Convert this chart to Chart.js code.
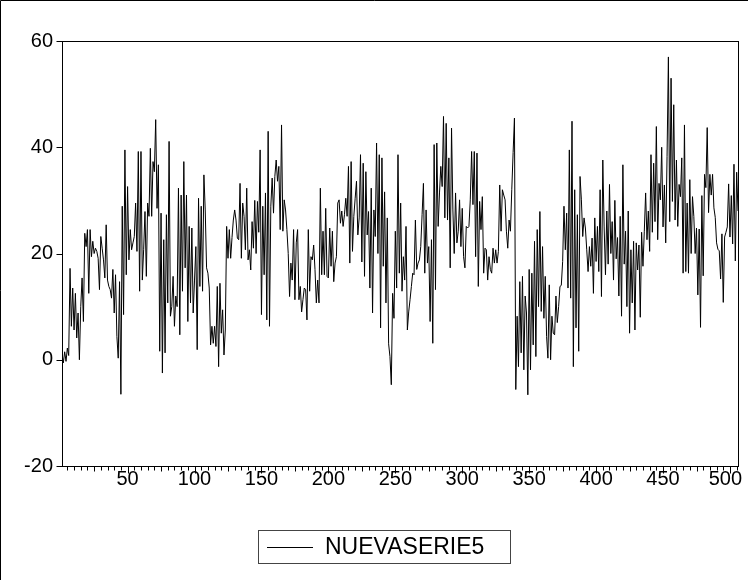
<!DOCTYPE html>
<html><head><meta charset="utf-8">
<script src="https://cdn.jsdelivr.net/npm/chart.js@4.4.1/dist/chart.umd.min.js"></script>
<style>html,body{margin:0;padding:0;background:#fff}#wrap{width:748px;height:580px;position:relative}</style>
</head><body><div id="wrap"><canvas id="c" width="748" height="580"></canvas></div>
<script>
const seriesName = "NUEVASERIE5";
const yTickValues = [-20, 0, 20, 40, 60];
const xTickLabels = [50, 100, 150, 200, 250, 300, 350, 400, 450, 500];

const values001_101 = [
1.2, -0.6, 1.5, -0.3, 2.2, 0.8, 17.2, 6.3, 13.5, 5.6,
12.5, 4.1, 8.8, 0, 10, 15.4, 7.2, 23.8, 21.3, 24.5,
12.5, 24.5, 19.4, 22.3, 20, 21, 20.4, 19.1, 13.2, 23.2,
21, 18.8, 15.4, 25.4, 15, 13.8, 13.2, 11.6, 17, 8.8, 16,
4.4, 0.3, 14.7, -6.5, 28.9, 8.5, 39.5, 16, 32.6, 18.8,
24.5, 20.7, 22, 23.2, 29.5, 20.4, 39.2, 12.9, 39.2, 15,
20.7, 27.9, 15.7, 29.5, 27, 39.8, 27, 37.3, 35.4, 45.2,
28.5, 36.7, 1.6, 27.6, -2.5, 22.6, 1.3, 27.3, 10.7, 41.1,
8.2, 10, 15.7, 6.3, 12, 10, 32.3, 4.7, 31, 12.9,
37.3, 17.3, 31, 7.2, 25.1, 10.7, 24.8, 8.8, 15, 21.3];
const values102_202 = [
1.9, 30.4, 13.8, 28.9, 12.9, 34.8, 28.2, 17.3, 16.3, 13.5,
2.8, 6.3, 3.1, 6.3, 2.5, 13.8, -1.3, 14.4, 5, 9.4,
0.9, 5.6, 25.1, 19.1, 24.5, 19.1, 23, 26.3, 28.2, 26.3, 22.9,
22.6, 33.2, 19.1, 29.5, 27, 20.7, 32.3, 18.8, 20.7, 16.9,
26, 21, 30, 20, 29.8, 24, 39.5, 8.5, 28.9, 16,
31.4, 7.5, 43, 6.3, 28.9, 34.2, 27.6, 34.5, 37.6, 33.6,
36.4, 24.5, 44.2, 24.2, 30.1, 28.2, 24.5, 20, 11.9, 18.2,
15, 24.5, 11.3, 22, 24.5, 11.3, 13.8, 9, 11.3, 13.5,
13.2, 7.5, 24.5, 12.9, 19.4, 18.8, 21.6, 17, 10.7, 15,
10.7, 32.3, 16, 24.2, 16, 28.5, 15.7, 15.4, 24.8, 17.6];
const values203_304 = [
24.2, 14.7, 18.2, 19.4, 29.5, 30.1, 25.7, 28, 25.1, 27.3, 30.4,
27, 36.4, 18.2, 37.3, 20.4, 27, 30.4, 33.6, 23.5, 26.7,
38.6, 18.4, 37, 15.7, 35.4, 23.5, 27.9, 13.5, 32.3, 8.8,
28.2, 23.2, 40.8, 20, 38.6, 6, 38, 17.6, 31.6, 10.7,
26.7, 3, 0.6, -4.7, 12.5, 7.8, 24.2, 13.5, 38.6, 16.3,
29.5, 12.9, 19.4, 15, 25.1, 5.6, 9, 11.3, 13.8, 16.3,
16, 26.3, 17, 18.2, 18.8, 21.3, 27.3, 33.2, 16.3, 28.2,
18.2, 21.3, 7.2, 22.6, 3.1, 40.5, 13.2, 40.8, 25.1, 31.4,
36.4, 32.6, 45.8, 26.7, 44.5, 26.3, 38, 17.3, 43.6, 28.2,
20, 31.4, 22, 24.2, 30.1, 21.3, 28.5, 19.4, 17.3, 25.1, 24.8];
const values305_405 = [
25.1, 30.1, 39.2, 29.2, 39.2, 19.4, 38.9, 13.8, 29.8, 24.5,
30.7, 16.3, 21, 20.7, 15, 19.4, 17, 16.3, 21, 18.2,
20.7, 18.2, 20.4, 32.9, 24.2, 32, 31, 30.1, 24.2, 21,
26.3, 24.2, 32, 39, 45.5, -5.6, 8.2, -1.3, 14.7, 1.3,
15.7, -1.9, 12, 8.8, -6.6, 17, -1.9, 16.3, 2.8, 22.3,
0.6, 24.5, 10, 27.9, 9.1, 21.3, 7.8, 15.7, 4.4, 0.3,
14.1, 0, 8.2, 5, 4.7, 12, 7, 10, 13.8, 14, 18.5,
28.9, 20.7, 27.6, 13.5, 39.5, 11.6, 44.9, -1.3, 32, 6,
27.3, 1.6, 34.5, 30.1, 23.2, 26.7, 24.8, 20.7, 16.6, 21.3,
17.6, 22.9, 12.5, 26.7, 18.5, 25.1, 16.6, 32, 11.9, 37.6];
const values406_506 = [
25, 16, 28, 18, 33, 20, 26, 15, 30, 19,
23, 12, 27, 8.2, 36.7, 18, 24.2, 10, 28, 5,
20.7, 10.7, 22.3, 5.6, 22, 16.9, 21.6, 8, 24, 17.6,
24.2, 31.4, 22.6, 28, 20.4, 38.6, 24, 37, 26, 43.9,
22.6, 33.2, 30.1, 40, 25, 32.9, 22, 38.3, 57, 26,
53, 29.8, 48, 26.3, 37.6, 25.1, 33, 30.7, 38, 16.3, 44.2,
16.6, 29.5, 16.3, 33.9, 20, 30.7, 27, 20, 24.8, 12.2,
24.6, 6.1, 30.9, 15.8, 34.9, 32.4, 43.7, 27.7, 34.9, 31,
34.9, 28.6, 26.8, 22, 20.8, 20.5, 15.2, 23.7, 10.8, 23.1,
24, 25, 33.1, 23.1, 30.9, 21.8, 36.8, 18.6, 35.3, 28];

const values = [].concat(values001_101, values102_202, values203_304, values305_405, values406_506);
const points = values.map((v, i) => ({x: i + 1, y: v}));

const FONT = 'Arial, "Liberation Sans", sans-serif';
const W = 748, H = 580;
const PLOT = {left: 62, top: 41, right: 738, bottom: 466};

const framePlugin = {
  id: 'frame',
  beforeDraw(chart) {
    const c = chart.ctx;
    c.save();
    c.fillStyle = '#fff';
    c.fillRect(0, 0, W, H);
    c.restore();
  },
  afterDraw(chart) {
    const c = chart.ctx, a = chart.chartArea;
    const xs = chart.scales.x, ys = chart.scales.y;
    c.save();
    c.strokeStyle = '#000';
    c.lineWidth = 1;
    c.beginPath();
    c.moveTo(0.5, H); c.lineTo(0.5, 0.5); c.lineTo(W, 0.5);
    c.stroke();
    const L = Math.round(a.left) + 0.5, T = Math.round(a.top) + 0.5;
    const R = Math.round(a.right) + 0.5, B = Math.round(a.bottom) + 0.5;
    c.strokeRect(L, T, R - L, B - T);
    c.beginPath();
    for (let v = 5; v <= xs.max; v += 5) {
      const px = Math.round(xs.getPixelForValue(v)) + 0.5;
      const len = v % 50 === 0 ? 7 : (v % 25 === 0 ? 5 : 4);
      c.moveTo(px, B); c.lineTo(px, B + len);
    }
    for (const v of yTickValues) {
      const py = Math.round(ys.getPixelForValue(v)) + 0.5;
      c.moveTo(L - 6, py); c.lineTo(L, py);
    }
    c.stroke();
    c.fillStyle = '#000';
    c.font = '20px ' + FONT;
    c.textBaseline = 'middle';
    c.textAlign = 'center';
    for (const v of xTickLabels) {
      const s = String(v);
      const w = c.measureText(s).width;
      let px = xs.getPixelForValue(v);
      if (px + w / 2 > W - 6) px = W - 6 - w / 2;
      c.fillText(s, px, B + 13);
    }
    const ds = chart.data.datasets[0];
    c.strokeStyle = '#444';
    c.strokeRect(258.5, 530.5, 252, 33);
    c.strokeStyle = ds.borderColor;
    c.beginPath();
    c.moveTo(267, 547.5); c.lineTo(313, 547.5);
    c.stroke();
    c.font = '23px ' + FONT;
    c.textAlign = 'left';
    c.fillText(ds.label, 325, 548);
    c.restore();
  }
};

new Chart(document.getElementById('c').getContext('2d'), {
  type: 'line',
  data: {datasets: [{label: seriesName, data: points, borderColor: '#000', borderWidth: 1,
    pointRadius: 0, tension: 0, fill: false}]},
  options: {
    responsive: false, animation: false, devicePixelRatio: 1,
    layout: {padding: {left: 0, top: PLOT.top, right: W - PLOT.right, bottom: 0}},
    plugins: {legend: {display: false}, tooltip: {enabled: false}},
    scales: {
      x: {type: 'linear', min: 1, max: values.length, position: 'bottom',
        afterBuildTicks: s => { s.ticks = xTickLabels.map(v => ({value: v})); },
        afterFit: s => { s.height = H - PLOT.bottom; s.paddingLeft = 0; s.paddingRight = 0; },
        grid: {display: false, drawTicks: false}, border: {display: false},
        ticks: {display: false}},
      y: {type: 'linear', min: -20, max: 60, position: 'left',
        afterBuildTicks: s => { s.ticks = yTickValues.map(v => ({value: v})); },
        afterFit: s => { s.width = PLOT.left; },
        grid: {display: false, drawTicks: false}, border: {display: false},
        ticks: {padding: 9, color: '#000', font: {family: FONT, size: 20}, callback: v => String(v)}}
    }
  },
  plugins: [framePlugin]
});
</script></body></html>
